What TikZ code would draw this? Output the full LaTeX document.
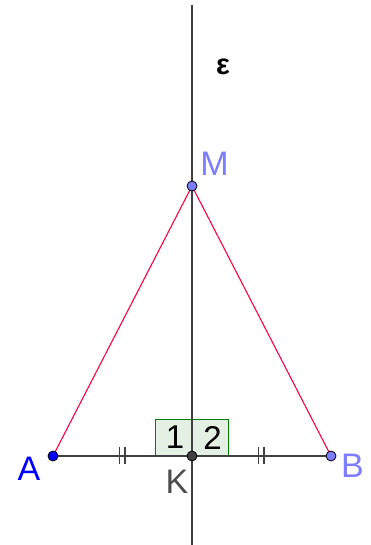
\documentclass[tikz,border=0pt]{standalone}
\usepackage{fontspec}
\setmainfont{Liberation Sans}
\begin{document}
\begin{tikzpicture}[x=1pt,y=-1pt,
  axis/.style={draw=black!75, line width=1.6pt},
  side/.style={draw={rgb,255:red,255;green,0;blue,64}, line width=1.1pt},
  tick/.style={draw=black!75, line width=1.4pt},
  pt/.style={circle, draw=black, line width=0.8pt, minimum size=10pt, inner sep=0pt},
  lab/.style={font=\fontsize{34}{34}\selectfont, inner sep=0pt},
  anglebox/.style={draw={rgb,255:red,0;green,128;blue,0}, fill={rgb,255:red,228;green,240;blue,228}, line width=0.9pt, minimum width=36.5pt, minimum height=37pt, inner sep=0pt, font=\fontsize{33}{33}\selectfont},
  digit/.style={inner sep=0pt, font=\fontsize{33}{33}\selectfont}]
\useasboundingbox (0,0) rectangle (370,545);
\definecolor{lblue}{RGB}{125,125,255}
\coordinate (top) at (192,5);
\coordinate (bot) at (192,545);
% angle boxes
\node[anglebox] (b1) at (173.75,437.5) {};
\node[anglebox] (b2) at (210.25,437.5) {};
% lines
\coordinate (Ac) at (53,456);
\coordinate (Bc) at (331,456);
\coordinate (Kc) at (192,456);
\coordinate (Mc) at (192,186);
\draw[axis] (top) -- (bot);
\draw[axis] (Ac) -- (Bc);
\draw[side] (Ac) -- (Mc);
\draw[side] (Bc) -- (Mc);
\node[digit] (d1) at (175,437.5) {1};
\node[digit] (d2) at (212.5,437.5) {2};
% ticks
\coordinate (t1a) at (119.5,447); \coordinate (t1b) at (119.5,464);
\coordinate (t2a) at (125,447); \coordinate (t2b) at (125,464);
\coordinate (t3a) at (258.5,447); \coordinate (t3b) at (258.5,464);
\coordinate (t4a) at (264,447); \coordinate (t4b) at (264,464);
\draw[tick] (t1a) -- (t1b);
\draw[tick] (t2a) -- (t2b);
\draw[tick] (t3a) -- (t3b);
\draw[tick] (t4a) -- (t4b);
% points
\node[pt, fill=blue] (A) at (Ac) {};
\node[pt, fill=lblue] (B) at (Bc) {};
\node[pt, fill=lblue] (M) at (Mc) {};
\node[pt, fill=black!75] (K) at (Kc) {};
% labels
\node[lab, text=blue] (lA) at (29,468.5) {A};
\node[lab, text=lblue] (lB) at (352.5,466) {B};
\node[lab, text=lblue] (lM) at (214.5,163.5) {M};
\node[lab, text=black!70] (lK) at (177,481.5) {K};
\node[font=\fontsize{29}{29}\selectfont\bfseries, inner sep=0pt] (eps) at (223,67) {ε};
\end{tikzpicture}
\end{document}
